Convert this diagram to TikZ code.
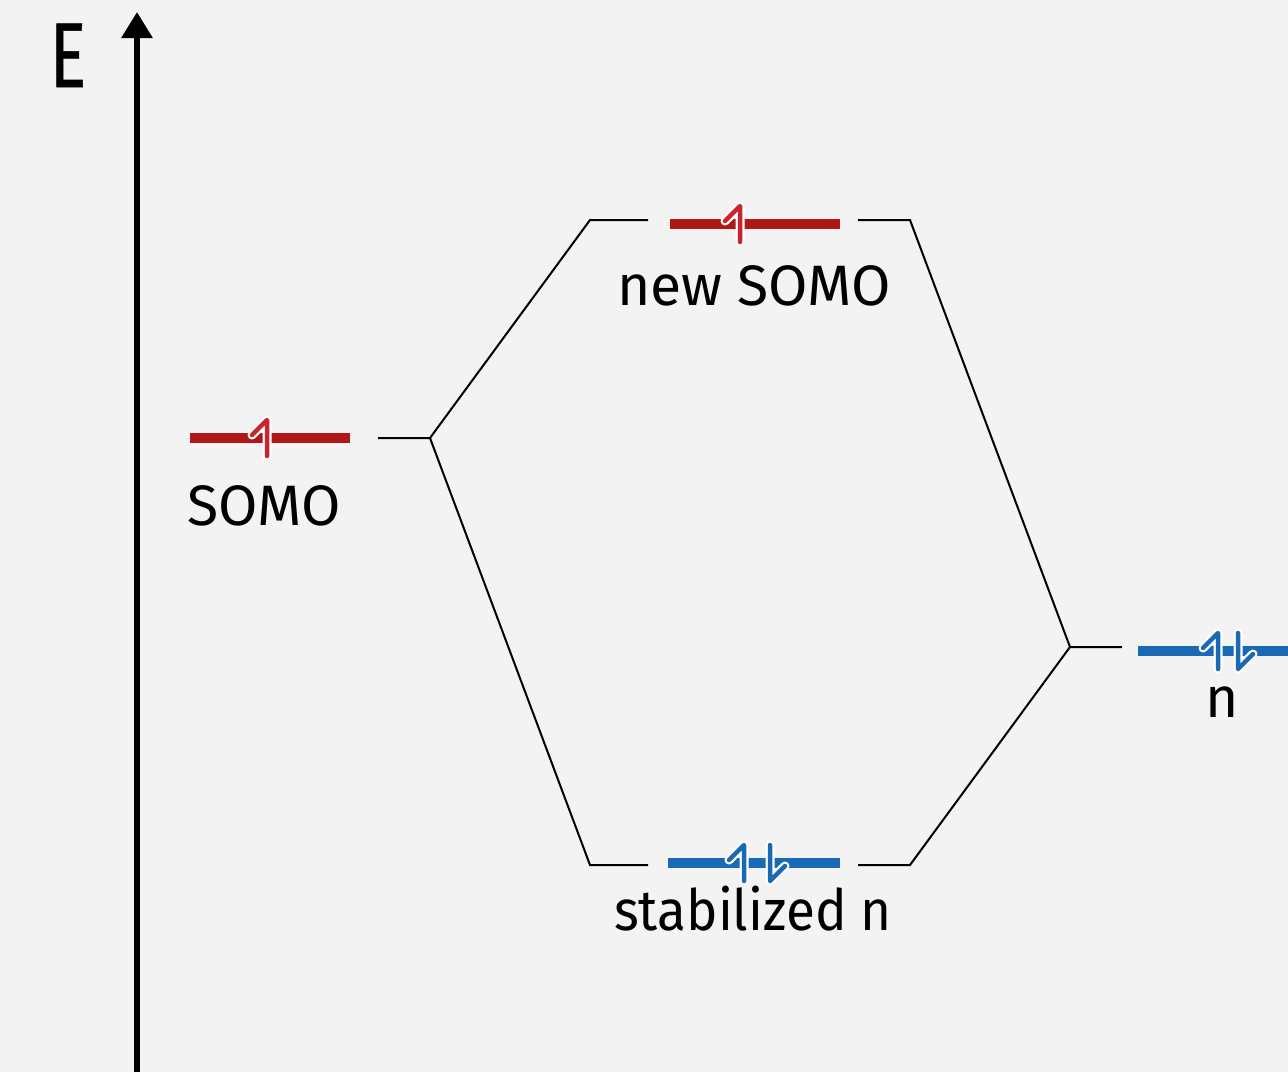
\documentclass[tikz,border=0pt]{standalone}
\usepackage{fontspec}
\setmainfont{Fira Sans}
\newfontfamily\axisfont[FakeStretch=0.74, FakeBold=0.6]{Fira Sans}
\newfontfamily\narrowfont[FakeStretch=0.93]{Fira Sans}
\usetikzlibrary{arrows.meta}
\definecolor{bg}{HTML}{F3F3F3}
\definecolor{somored}{HTML}{B01818}
\definecolor{spinred}{HTML}{C9252E}
\definecolor{nblue}{HTML}{1A69B4}
\tikzset{
  level/.style={line width=10pt, line cap=butt},
  conn/.style={line width=2pt, black},
  label/.style={font=\fontsize{57}{60}\selectfont, anchor=base, inner sep=0pt},
  halo/.style={white, line width=9pt, line cap=round, line join=round},
  spinup/.pic={
    \draw[halo] (-15,-3) -- (0,-18) -- (0,18);
    \draw[#1, line width=4.5pt, line cap=round, line join=round] (-15,-3) -- (0,-18) -- (0,18);
  },
  spindown/.pic={
    \draw[halo] (0,-18) -- (0,18) -- (15,3);
    \draw[#1, line width=4.5pt, line cap=round, line join=round] (0,-18) -- (0,18) -- (15,3);
  },
}
\begin{document}
\begin{tikzpicture}[x=1pt, y=-1pt]
  \fill[bg] (0,0) rectangle (1288,1072);
  \useasboundingbox (0,0) rectangle (1288,1072);

  % energy axis
  \coordinate (axisbot) at (137,1072);
  \coordinate (axistop) at (137,12);
  \draw[line width=6pt, -{Triangle[width=30pt,length=26pt]}] (axisbot) -- (axistop);
  \node[font=\axisfont\fontsize{92}{96}\selectfont, anchor=base, inner sep=0pt] (E) at (68,87) {E};

  % corner points of the correlation lines
  \coordinate (somoR) at (378,438);
  \coordinate (somoJ) at (430,438);
  \coordinate (hiL) at (590,220);
  \coordinate (hiLe) at (648,220);
  \coordinate (hiRs) at (858,220);
  \coordinate (hiR) at (910,220);
  \coordinate (loL) at (590,865);
  \coordinate (loLe) at (648,865);
  \coordinate (loRs) at (858,865);
  \coordinate (loR) at (910,865);
  \coordinate (nJ) at (1070,647);
  \coordinate (nL) at (1122,647);

  \draw[conn] (somoR) -- (somoJ) -- (hiL) -- (hiLe);
  \draw[conn] (hiRs) -- (hiR) -- (nJ) -- (nL);
  \draw[conn] (somoJ) -- (loL) -- (loLe);
  \draw[conn] (loRs) -- (loR) -- (nJ);

  % orbital levels
  \coordinate (somoA) at (190,438);
  \coordinate (somoB) at (350,438);
  \draw[level, somored] (somoA) -- (somoB);
  \coordinate (newA) at (670,224);
  \coordinate (newB) at (840,224);
  \draw[level, somored] (newA) -- (newB);
  \coordinate (stabA) at (668,863);
  \coordinate (stabB) at (840,863);
  \draw[level, nblue] (stabA) -- (stabB);
  \coordinate (nA) at (1138,651);
  \coordinate (nB) at (1288,651);
  \draw[level, nblue] (nA) -- (nB);

  % electrons
  \pic at (267,438) {spinup=spinred};
  \pic at (740,224) {spinup=spinred};
  \pic at (744,863) {spinup=nblue};
  \pic at (770,863) {spindown=nblue};
  \pic at (1218,651) {spinup=nblue};
  \pic at (1238,651) {spindown=nblue};

  % labels
  \node[label] (lsomo) at (264,525) {SOMO};
  \node[label] (lnew) at (754,305) {new SOMO};
  \node[label, font=\narrowfont\fontsize{57}{60}\selectfont] (lstab) at (753,930) {stabilized n};
  \node[label] (ln) at (1222,717) {n};
\end{tikzpicture}
\end{document}
